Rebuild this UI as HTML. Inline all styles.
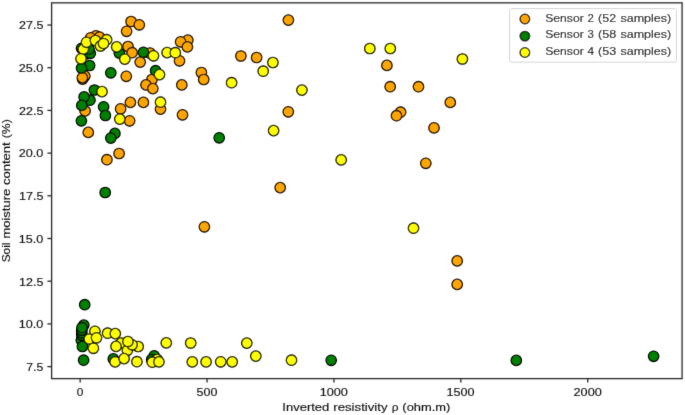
<!DOCTYPE html>
<html><head><meta charset="utf-8"><style>
html,body{margin:0;padding:0;background:#fff;}
svg{display:block;}
.t{font-family:"Liberation Sans",sans-serif;font-size:11.45px;fill:#111;stroke:#111;stroke-width:0.15px;}
</style></head><body>
<svg width="685" height="415" viewBox="0 0 685 415">
<defs><filter id="bl" x="0" y="0" width="685" height="415" filterUnits="userSpaceOnUse"><feConvolveMatrix order="3" kernelMatrix="0.015 0.06 0.015 0.06 0.70 0.06 0.015 0.06 0.015" divisor="1" preserveAlpha="false" edgeMode="duplicate"/></filter></defs>
<rect width="685" height="415" fill="#fff"/>
<g filter="url(#bl)">
<g stroke="#000" stroke-width="1.3">
<g><circle cx="131.1" cy="21.5" r="5.2" fill="#ffa500"/><circle cx="139.3" cy="24.8" r="5.2" fill="#ffa500"/><circle cx="126.6" cy="31.3" r="5.2" fill="#ffa500"/><circle cx="288.4" cy="20.1" r="5.2" fill="#ffa500"/><circle cx="95.9" cy="35.9" r="5.2" fill="#ffa500"/><circle cx="90.6" cy="37.8" r="5.2" fill="#ffa500"/><circle cx="99.5" cy="37.1" r="5.2" fill="#ffa500"/><circle cx="128.0" cy="46.5" r="5.2" fill="#ffa500"/><circle cx="132.1" cy="52.7" r="5.2" fill="#ffa500"/><circle cx="140.2" cy="62.1" r="5.2" fill="#ffa500"/><circle cx="149.9" cy="53.0" r="5.2" fill="#ffa500"/><circle cx="187.8" cy="40.1" r="5.2" fill="#ffa500"/><circle cx="180.6" cy="41.8" r="5.2" fill="#ffa500"/><circle cx="187.4" cy="46.9" r="5.2" fill="#ffa500"/><circle cx="179.5" cy="60.8" r="5.2" fill="#ffa500"/><circle cx="126.3" cy="76.3" r="5.2" fill="#ffa500"/><circle cx="152.0" cy="79.5" r="5.2" fill="#ffa500"/><circle cx="146.0" cy="84.9" r="5.2" fill="#ffa500"/><circle cx="152.8" cy="88.6" r="5.2" fill="#ffa500"/><circle cx="130.4" cy="102.4" r="5.2" fill="#ffa500"/><circle cx="143.4" cy="102.4" r="5.2" fill="#ffa500"/><circle cx="120.6" cy="108.8" r="5.2" fill="#ffa500"/><circle cx="129.6" cy="120.8" r="5.2" fill="#ffa500"/><circle cx="160.5" cy="109.1" r="5.2" fill="#ffa500"/><circle cx="182.5" cy="114.8" r="5.2" fill="#ffa500"/><circle cx="181.8" cy="84.9" r="5.2" fill="#ffa500"/><circle cx="201.4" cy="72.5" r="5.2" fill="#ffa500"/><circle cx="203.7" cy="79.5" r="5.2" fill="#ffa500"/><circle cx="240.9" cy="56.0" r="5.2" fill="#ffa500"/><circle cx="256.6" cy="57.5" r="5.2" fill="#ffa500"/><circle cx="288.3" cy="111.8" r="5.2" fill="#ffa500"/><circle cx="386.9" cy="65.4" r="5.2" fill="#ffa500"/><circle cx="390.2" cy="86.7" r="5.2" fill="#ffa500"/><circle cx="418.5" cy="86.7" r="5.2" fill="#ffa500"/><circle cx="450.3" cy="102.4" r="5.2" fill="#ffa500"/><circle cx="400.6" cy="112.2" r="5.2" fill="#ffa500"/><circle cx="396.5" cy="115.7" r="5.2" fill="#ffa500"/><circle cx="434.0" cy="127.9" r="5.2" fill="#ffa500"/><circle cx="425.8" cy="163.3" r="5.2" fill="#ffa500"/><circle cx="280.2" cy="187.6" r="5.2" fill="#ffa500"/><circle cx="204.4" cy="226.8" r="5.2" fill="#ffa500"/><circle cx="457.2" cy="260.9" r="5.2" fill="#ffa500"/><circle cx="457.2" cy="284.4" r="5.2" fill="#ffa500"/><circle cx="84.8" cy="76.1" r="5.2" fill="#ffa500"/><circle cx="82.6" cy="79.1" r="5.2" fill="#ffa500"/><circle cx="82.4" cy="77.6" r="5.2" fill="#ffa500"/><circle cx="85.1" cy="110.9" r="5.2" fill="#ffa500"/><circle cx="88.3" cy="132.4" r="5.2" fill="#ffa500"/><circle cx="119.1" cy="153.5" r="5.2" fill="#ffa500"/><circle cx="106.9" cy="159.7" r="5.2" fill="#ffa500"/></g>
<g><circle cx="81.5" cy="48.3" r="5.2" fill="#008000"/><circle cx="86.5" cy="53.8" r="5.2" fill="#008000"/><circle cx="90.3" cy="53.3" r="5.2" fill="#008000"/><circle cx="89.0" cy="49.2" r="5.2" fill="#008000"/><circle cx="89.6" cy="65.5" r="5.2" fill="#008000"/><circle cx="81.5" cy="68.1" r="5.2" fill="#008000"/><circle cx="110.8" cy="72.8" r="5.2" fill="#008000"/><circle cx="119.3" cy="53.1" r="5.2" fill="#008000"/><circle cx="143.4" cy="52.3" r="5.2" fill="#008000"/><circle cx="155.6" cy="70.7" r="5.2" fill="#008000"/><circle cx="94.4" cy="90.0" r="5.2" fill="#008000"/><circle cx="90.0" cy="100.2" r="5.2" fill="#008000"/><circle cx="84.1" cy="96.9" r="5.2" fill="#008000"/><circle cx="81.8" cy="105.4" r="5.2" fill="#008000"/><circle cx="103.6" cy="106.8" r="5.2" fill="#008000"/><circle cx="105.4" cy="115.5" r="5.2" fill="#008000"/><circle cx="81.4" cy="120.8" r="5.2" fill="#008000"/><circle cx="114.9" cy="133.4" r="5.2" fill="#008000"/><circle cx="110.8" cy="138.1" r="5.2" fill="#008000"/><circle cx="219.2" cy="137.8" r="5.2" fill="#008000"/><circle cx="105.2" cy="192.5" r="5.2" fill="#008000"/><circle cx="84.7" cy="304.7" r="5.2" fill="#008000"/><circle cx="81.3" cy="340.3" r="5.2" fill="#008000"/><circle cx="83.8" cy="325.1" r="5.2" fill="#008000"/><circle cx="81.8" cy="335.3" r="5.2" fill="#008000"/><circle cx="81.8" cy="332.8" r="5.2" fill="#008000"/><circle cx="81.8" cy="330.3" r="5.2" fill="#008000"/><circle cx="82.0" cy="327.7" r="5.2" fill="#008000"/><circle cx="82.4" cy="346.5" r="5.2" fill="#008000"/><circle cx="83.6" cy="360.2" r="5.2" fill="#008000"/><circle cx="113.3" cy="358.9" r="5.2" fill="#008000"/><circle cx="154.2" cy="355.8" r="5.2" fill="#008000"/><circle cx="151.7" cy="359.5" r="5.2" fill="#008000"/><circle cx="331.2" cy="360.3" r="5.2" fill="#008000"/><circle cx="516.3" cy="360.4" r="5.2" fill="#008000"/><circle cx="653.6" cy="356.3" r="5.2" fill="#008000"/></g>
<g><circle cx="83.3" cy="49.1" r="5.2" fill="#ffff00"/><circle cx="86.5" cy="42.3" r="5.2" fill="#ffff00"/><circle cx="95.4" cy="40.5" r="5.2" fill="#ffff00"/><circle cx="106.6" cy="39.7" r="5.2" fill="#ffff00"/><circle cx="100.5" cy="46.0" r="5.2" fill="#ffff00"/><circle cx="103.5" cy="43.5" r="5.2" fill="#ffff00"/><circle cx="81.0" cy="58.8" r="5.2" fill="#ffff00"/><circle cx="116.7" cy="46.9" r="5.2" fill="#ffff00"/><circle cx="124.8" cy="59.1" r="5.2" fill="#ffff00"/><circle cx="153.5" cy="55.8" r="5.2" fill="#ffff00"/><circle cx="167.1" cy="52.6" r="5.2" fill="#ffff00"/><circle cx="175.3" cy="52.7" r="5.2" fill="#ffff00"/><circle cx="159.5" cy="74.6" r="5.2" fill="#ffff00"/><circle cx="102.0" cy="91.6" r="5.2" fill="#ffff00"/><circle cx="119.8" cy="119.1" r="5.2" fill="#ffff00"/><circle cx="160.5" cy="102.2" r="5.2" fill="#ffff00"/><circle cx="231.6" cy="82.7" r="5.2" fill="#ffff00"/><circle cx="263.2" cy="71.2" r="5.2" fill="#ffff00"/><circle cx="272.9" cy="62.5" r="5.2" fill="#ffff00"/><circle cx="301.9" cy="90.1" r="5.2" fill="#ffff00"/><circle cx="369.8" cy="48.5" r="5.2" fill="#ffff00"/><circle cx="390.3" cy="48.5" r="5.2" fill="#ffff00"/><circle cx="462.4" cy="59.0" r="5.2" fill="#ffff00"/><circle cx="273.6" cy="130.6" r="5.2" fill="#ffff00"/><circle cx="341.2" cy="159.9" r="5.2" fill="#ffff00"/><circle cx="413.5" cy="228.2" r="5.2" fill="#ffff00"/><circle cx="94.9" cy="331.3" r="5.2" fill="#ffff00"/><circle cx="89.3" cy="339.0" r="5.2" fill="#ffff00"/><circle cx="96.5" cy="337.8" r="5.2" fill="#ffff00"/><circle cx="93.4" cy="348.3" r="5.2" fill="#ffff00"/><circle cx="107.6" cy="333.2" r="5.2" fill="#ffff00"/><circle cx="115.3" cy="333.6" r="5.2" fill="#ffff00"/><circle cx="121.2" cy="343.0" r="5.2" fill="#ffff00"/><circle cx="138.2" cy="346.5" r="5.2" fill="#ffff00"/><circle cx="127.4" cy="350.3" r="5.2" fill="#ffff00"/><circle cx="132.1" cy="344.8" r="5.2" fill="#ffff00"/><circle cx="127.9" cy="341.5" r="5.2" fill="#ffff00"/><circle cx="116.0" cy="346.4" r="5.2" fill="#ffff00"/><circle cx="115.1" cy="361.9" r="5.2" fill="#ffff00"/><circle cx="124.1" cy="358.6" r="5.2" fill="#ffff00"/><circle cx="136.9" cy="361.7" r="5.2" fill="#ffff00"/><circle cx="157.1" cy="359.5" r="5.2" fill="#ffff00"/><circle cx="152.3" cy="362.2" r="5.2" fill="#ffff00"/><circle cx="158.9" cy="361.9" r="5.2" fill="#ffff00"/><circle cx="166.3" cy="342.9" r="5.2" fill="#ffff00"/><circle cx="190.7" cy="343.0" r="5.2" fill="#ffff00"/><circle cx="192.3" cy="361.9" r="5.2" fill="#ffff00"/><circle cx="206.1" cy="361.9" r="5.2" fill="#ffff00"/><circle cx="220.7" cy="361.8" r="5.2" fill="#ffff00"/><circle cx="232.2" cy="361.9" r="5.2" fill="#ffff00"/><circle cx="246.8" cy="343.1" r="5.2" fill="#ffff00"/><circle cx="255.8" cy="356.1" r="5.2" fill="#ffff00"/><circle cx="291.5" cy="360.2" r="5.2" fill="#ffff00"/></g>
</g>
<rect x="51.6" y="2.85" width="630.5" height="375.75" fill="none" stroke="#2a2a2a" stroke-width="1.3"/>
<g stroke="#2a2a2a" stroke-width="1.3"><line x1="80.15" y1="378.6" x2="80.15" y2="382.6" /><line x1="207.05" y1="378.6" x2="207.05" y2="382.6" /><line x1="333.95" y1="378.6" x2="333.95" y2="382.6" /><line x1="460.85" y1="378.6" x2="460.85" y2="382.6" /><line x1="587.75" y1="378.6" x2="587.75" y2="382.6" /><line x1="47.4" y1="366.61" x2="51.6" y2="366.61" /><line x1="47.4" y1="323.91" x2="51.6" y2="323.91" /><line x1="47.4" y1="281.21" x2="51.6" y2="281.21" /><line x1="47.4" y1="238.51" x2="51.6" y2="238.51" /><line x1="47.4" y1="195.82" x2="51.6" y2="195.82" /><line x1="47.4" y1="153.12" x2="51.6" y2="153.12" /><line x1="47.4" y1="110.42" x2="51.6" y2="110.42" /><line x1="47.4" y1="67.72" x2="51.6" y2="67.72" /><line x1="47.4" y1="25.03" x2="51.6" y2="25.03" /></g>
<text transform="translate(76.85,395.60) scale(1.0357,1)" class="t">0</text><text transform="translate(196.62,395.60) scale(1.0912,1)" class="t">500</text><text transform="translate(319.66,395.60) scale(1.1033,1)" class="t">1000</text><text transform="translate(446.56,395.60) scale(1.1033,1)" class="t">1500</text><text transform="translate(573.58,395.60) scale(1.1068,1)" class="t">2000</text><text transform="translate(26.28,370.91) scale(1.0765,1)" class="t">7.5</text><text transform="translate(18.87,328.21) scale(1.1002,1)" class="t">10.0</text><text transform="translate(19.12,285.51) scale(1.0907,1)" class="t">12.5</text><text transform="translate(18.87,242.81) scale(1.1002,1)" class="t">15.0</text><text transform="translate(19.12,200.12) scale(1.0907,1)" class="t">17.5</text><text transform="translate(18.79,157.42) scale(1.1042,1)" class="t">20.0</text><text transform="translate(19.03,114.72) scale(1.0948,1)" class="t">22.5</text><text transform="translate(18.79,72.02) scale(1.1042,1)" class="t">25.0</text><text transform="translate(19.03,29.33) scale(1.0948,1)" class="t">27.5</text>
<text transform="translate(282.30,410.70) scale(1.1370,1)" class="t">Inverted</text><text transform="translate(333.25,410.70) scale(1.1541,1)" class="t">resistivity</text><text transform="translate(391.72,410.70) scale(1.0352,1)" class="t">ρ</text><text transform="translate(402.35,410.70) scale(1.1251,1)" class="t">(ohm.m)</text>
<g transform="translate(10.4,190.9) rotate(-90)"><text transform="translate(-71.42,0.00) scale(1.0378,1)" class="t">Soil</text><text transform="translate(-47.61,0.00) scale(1.1328,1)" class="t">moisture</text><text transform="translate(5.79,0.00) scale(1.1404,1)" class="t">content</text><text transform="translate(52.58,0.00) scale(1.0700,1)" class="t">(%)</text></g>

<rect x="509.6" y="8.6" width="166.8" height="53.6" rx="2" ry="2" fill="#fff" fill-opacity="0.8" stroke="#d6d6d6" stroke-width="1"/>
<circle cx="524.9" cy="19.0" r="4.8" fill="#ffa500" stroke="#000" stroke-width="1.3"/><circle cx="524.9" cy="36.1" r="4.8" fill="#008000" stroke="#000" stroke-width="1.3"/><circle cx="524.9" cy="52.5" r="4.8" fill="#ffff00" stroke="#000" stroke-width="1.3"/>
<text transform="translate(545.25,21.70) scale(1.0633,1)" class="t">Sensor</text><text transform="translate(587.45,21.70) scale(0.9983,1)" class="t">2</text><text transform="translate(598.12,21.70) scale(1.0883,1)" class="t">(52</text><text transform="translate(620.47,21.70) scale(1.0915,1)" class="t">samples)</text>
<text transform="translate(545.25,38.30) scale(1.0633,1)" class="t">Sensor</text><text transform="translate(587.62,38.30) scale(0.9947,1)" class="t">3</text><text transform="translate(598.11,38.30) scale(1.1061,1)" class="t">(58</text><text transform="translate(620.47,38.30) scale(1.0915,1)" class="t">samples)</text>
<text transform="translate(545.25,54.90) scale(1.0633,1)" class="t">Sensor</text><text transform="translate(587.47,54.90) scale(1.0358,1)" class="t">4</text><text transform="translate(598.12,54.90) scale(1.0979,1)" class="t">(53</text><text transform="translate(620.47,54.90) scale(1.0915,1)" class="t">samples)</text>

</g>
</svg>
</body></html>
